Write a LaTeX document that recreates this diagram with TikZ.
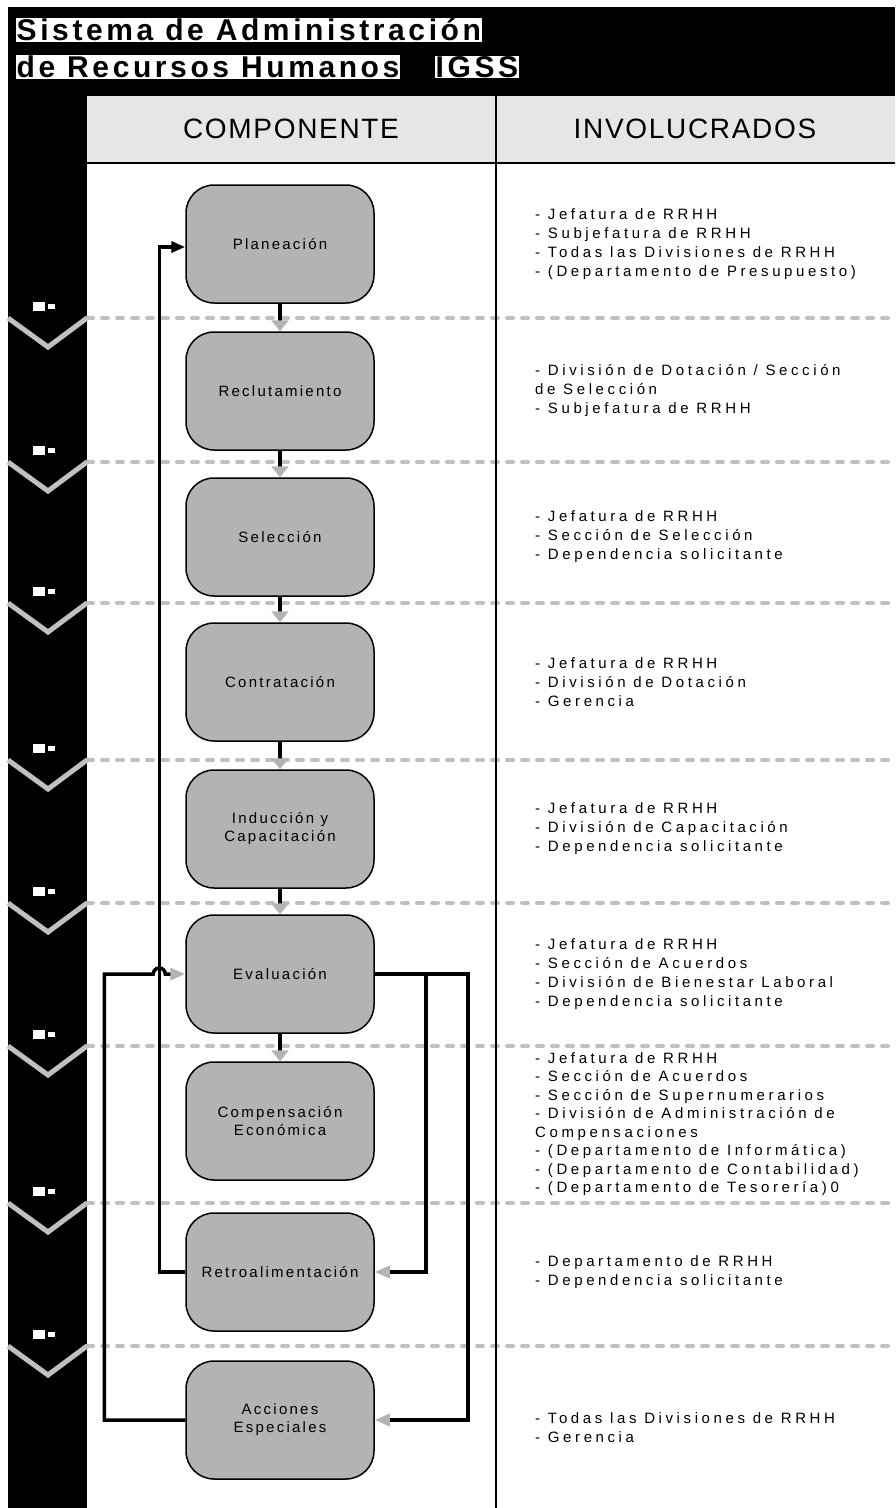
\documentclass[tikz,border=0pt]{standalone}
\usepackage{fontspec}
\setmainfont{Liberation Sans}
\newfontfamily\listfont[LetterSpace=24]{Liberation Sans}
\newfontfamily\cajafont[LetterSpace=15]{Liberation Sans}
\newfontfamily\headfont[LetterSpace=6]{Liberation Sans}
\newfontfamily\titlefont[LetterSpace=12]{Liberation Sans}
\usetikzlibrary{arrows.meta,calc}
\definecolor{cajagris}{HTML}{B3B3B3}
\definecolor{cabgris}{HTML}{E6E6E6}
\definecolor{lineagris}{HTML}{C0C0C0}

\begin{document}
\begin{tikzpicture}[x=1pt,y=-1pt,
    etapa/.style={draw,line width=1.5pt,fill=cajagris,rounded corners=28pt,
      minimum width=188pt,minimum height=118pt,align=center,
      font=\cajafont\fontsize{15}{18}\selectfont},
    invol/.style={anchor=west,align=left,inner sep=0pt,
      font=\listfont\fontsize{15}{19}\selectfont},
    titulo/.style={fill=white,text=black,inner sep=0.5pt,anchor=west,
      font=\titlefont\bfseries\fontsize{30}{32}\selectfont},
    cabecera/.style={font=\headfont\fontsize{28}{30}\selectfont},
    flujo/.style={line width=4pt,-{Triangle[width=17pt,length=11pt,color=cajagris]}},
    retorno/.style={line width=3.5pt},
    puntagris/.style={-{Triangle[width=12pt,length=15pt,color=cajagris]}},
    separador/.style={lineagris,line width=4pt,dash pattern=on 6pt off 9pt,line cap=round},
    chevron/.style={lineagris,line width=5pt}]
  \useasboundingbox (0,0) rectangle (895,1508);

  % fondo y tabla
  \fill (8,7) rectangle (895,96);
  \fill (8,96) rectangle (87,1508);
  \fill[cabgris] (87,96) rectangle (895,163);

  \node[titulo] (tit1) at (16,30) {Sistema de Administración};
  \node[titulo] (tit2) at (16,67) {de Recursos Humanos};
  \node[titulo] (tit3) at (435,67) {IGSS};

  \node[cabecera] (hcomp) at (291,129) {COMPONENTE};
  \node[cabecera] (hinv) at (695,129) {INVOLUCRADOS};

  % separadores de fases
  \foreach \y in {318,462,603,760,903,1046,1203,1346} {
    \draw[separador] (87,\y) -- (895,\y);
    \draw[chevron] (8,\y) -- (48,\y+29) -- (87,\y);
    \fill[white] (33,\y-16) rectangle (45,\y-7);
    \fill[white] (48,\y-14) rectangle (55,\y-9);
  }

  \draw[line width=2pt] (87,163) -- (895,163);
  \draw[line width=2pt] (496,96) -- (496,1508);

  % componentes
  \node[etapa] (plan) at (280,244) {Planeación};
  \node[etapa] (recl) at (280,391) {Reclutamiento};
  \node[etapa] (sel) at (280,537) {Selección};
  \node[etapa] (contr) at (280,682) {Contratación};
  \node[etapa] (induc) at (280,829) {Inducción y\\Capacitación};
  \node[etapa] (eval) at (280,974) {Evaluación};
  \node[etapa] (compen) at (280,1121) {Compensación\\Económica};
  \node[etapa] (retro) at (280,1272) {Retroalimentación};
  \node[etapa] (acc) at (280,1420) {Acciones\\Especiales};

  \foreach \a/\b in {plan/recl,recl/sel,sel/contr,contr/induc,induc/eval,eval/compen}
    \draw[flujo] (\a) -- (\b);

  % lazos de retroalimentacion
  \draw[retorno,-{Triangle[width=11pt,length=14pt]}] (retro.west) -- ++(-26,0) |- ($(plan.west)+(0,3)$);
  \draw[retorno,puntagris] (eval.east) -- ++(51,0) coordinate (ramal) -- ++(42,0) |- (acc.east);
  \draw[retorno,puntagris] (ramal) |- (retro.east);
  \draw[retorno,puntagris] (acc.west) -- ++(-81,0) |- ($(eval.west)+(-32,0)$)
    arc[start angle=180,end angle=360,radius=6] -- (eval.west);

  % involucrados
  \coordinate (col) at (535,0);
  \node[invol] (i1) at (plan -| col) {- Jefatura de RRHH\\- Subjefatura de RRHH\\- Todas las Divisiones de RRHH\\- (Departamento de Presupuesto)};
  \node[invol] (i2) at (recl -| col) {- División de Dotación / Sección\\de Selección\\- Subjefatura de RRHH};
  \node[invol] (i3) at (sel -| col) {- Jefatura de RRHH\\- Sección de Selección\\- Dependencia solicitante};
  \node[invol] (i4) at (contr -| col) {- Jefatura de RRHH\\- División de Dotación\\- Gerencia};
  \node[invol] (i5) at (induc -| col) {- Jefatura de RRHH\\- División de Capacitación\\- Dependencia solicitante};
  \node[invol] (i6) at (eval -| col) {- Jefatura de RRHH\\- Sección de Acuerdos\\- División de Bienestar Laboral\\- Dependencia solicitante};
  \node[invol,yshift=-3pt,font=\listfont\fontsize{15}{18.5}\selectfont] (i7) at (compen -| col) {- Jefatura de RRHH\\- Sección de Acuerdos\\- Sección de Supernumerarios\\- División de Administración de\\Compensaciones\\- (Departamento de Informática)\\- (Departamento de Contabilidad)\\- (Departamento de Tesorería)0};
  \node[invol] (i8) at (retro -| col) {- Departamento de RRHH\\- Dependencia solicitante};
  \node[invol,yshift=-8pt] (i9) at (acc -| col) {- Todas las Divisiones de RRHH\\- Gerencia};
\end{tikzpicture}
\end{document}
